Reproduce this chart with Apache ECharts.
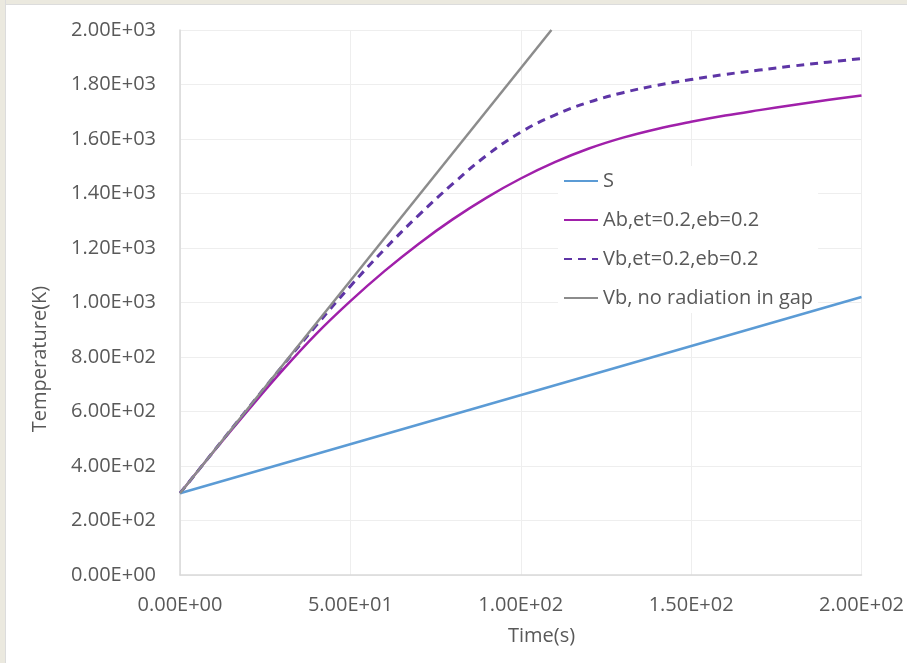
<!DOCTYPE html>
<html>
<head>
<meta charset="utf-8">
<script src="https://cdn.jsdelivr.net/npm/echarts@6/dist/echarts.min.js"></script>
<style>
  html, body { margin: 0; padding: 0; background: #ffffff; }
  #chart { position: absolute; left: 0; top: 0; width: 907px; height: 663px; }
  .edge-top { position: absolute; left: 0; top: 0; width: 907px; height: 4px; background: #ebe9df; border-bottom: 1px solid #dcdcdc; }
  .edge-left { position: absolute; left: 0; top: 0; width: 5px; height: 663px; background: #ebe9df; border-right: 1px solid #dcdcdc; }
</style>
</head>
<body>
<div id="chart"></div>
<div class="edge-top"></div>
<div class="edge-left"></div>
<script>
// Time axis (s) and temperatures (K)
const timeS = [0, 200];
const tempS = [300, 1020];

const timeAb = [0, 10, 20, 30, 40, 50, 60, 70, 80, 90, 100, 110, 120, 130, 140, 150, 160, 170, 180, 190, 200];
const tempAb = [300, 455, 605, 750, 885, 1005, 1115, 1215, 1305, 1385, 1455, 1515, 1565, 1605, 1637, 1663, 1686, 1706, 1725, 1743, 1760];

const timeVb = [0, 10, 20, 30, 40, 50, 60, 70, 80, 90, 100, 110, 120, 130, 140, 150, 160, 170, 180, 190, 200];
const tempVb = [300, 456, 612, 766, 916, 1060, 1195, 1320, 1435, 1540, 1625, 1688, 1735, 1770, 1797, 1818, 1837, 1853, 1868, 1882, 1895];

const timeNoRad = [0, 109];
const tempNoRad = [300, 2000];

const seriesNames = ['S', 'Ab,et=0.2,eb=0.2', 'Vb,et=0.2,eb=0.2', 'Vb, no radiation in gap'];

const xTickValues = [0, 50, 100, 150, 200];
const xTickLabels = ['0.00E+00', '5.00E+01', '1.00E+02', '1.50E+02', '2.00E+02'];
const yTickValues = [0, 200, 400, 600, 800, 1000, 1200, 1400, 1600, 1800, 2000];
const yTickLabels = ['0.00E+00', '2.00E+02', '4.00E+02', '6.00E+02', '8.00E+02', '1.00E+03',
                     '1.20E+03', '1.40E+03', '1.60E+03', '1.80E+03', '2.00E+03'];

const pairs = (xs, ys) => xs.map((x, i) => [x, ys[i]]);
const tickLabel = (values, labels) => v => {
  const i = values.indexOf(v);
  return i >= 0 ? labels[i] : '';
};

const font = 'Open Sans';
const textColor = '#595959';

const chart = echarts.init(document.getElementById('chart'), null, { renderer: 'canvas' });
chart.setOption({
  animation: false,
  backgroundColor: '#ffffff',
  grid: { left: 180, right: 44, top: 30, bottom: 88, containLabel: false },
  xAxis: {
    type: 'value', min: 0, max: 200, interval: 50,
    axisLine: { show: true, lineStyle: { color: '#d9d9d9', width: 1.5 } },
    axisTick: { show: false },
    splitLine: { show: true, lineStyle: { color: '#eeeeee', width: 1 } },
    axisLabel: { formatter: tickLabel(xTickValues, xTickLabels), fontFamily: font, fontSize: 20, color: textColor, margin: 20 }
  },
  yAxis: {
    type: 'value', min: 0, max: 2000, interval: 200,
    axisLine: { show: true, lineStyle: { color: '#d9d9d9', width: 1.5 } },
    axisTick: { show: false },
    splitLine: { show: true, lineStyle: { color: '#eeeeee', width: 1 } },
    axisLabel: { formatter: tickLabel(yTickValues, yTickLabels), fontFamily: font, fontSize: 20, color: textColor, margin: 24 }
  },
  legend: {
    orient: 'vertical', left: 558, top: 166,
    padding: [5, 5, 5, 5],
    backgroundColor: '#ffffff',
    itemWidth: 34, itemHeight: 14, itemGap: 19,
    itemStyle: { opacity: 0 },
    textStyle: { fontFamily: font, fontSize: 20, color: textColor, lineHeight: 20 },
    data: seriesNames
  },
  graphic: [
    { type: 'text', left: 508, top: 626, style: { text: 'Time(s)', font: '20px "Open Sans"', fill: textColor } },
    { type: 'text', x: 30, y: 359, rotation: Math.PI / 2,
      style: { text: 'Temperature(K)', font: '20px "Open Sans"', fill: textColor, align: 'center', verticalAlign: 'top' } }
  ],
  series: [
    { name: seriesNames[0], type: 'line', data: pairs(timeS, tempS), symbol: 'none',
      lineStyle: { color: '#5b9bd5', width: 2.5 }, itemStyle: { color: '#5b9bd5' }, z: 5 },
    { name: seriesNames[1], type: 'line', data: pairs(timeAb, tempAb), symbol: 'none', smooth: 0.4,
      lineStyle: { color: '#a020aa', width: 2.5 }, itemStyle: { color: '#a020aa' }, z: 3 },
    { name: seriesNames[2], type: 'line', data: pairs(timeVb, tempVb), symbol: 'none', smooth: 0.4,
      lineStyle: { color: '#5e35a6', width: 3, type: [8, 6] }, itemStyle: { color: '#5e35a6' }, z: 4 },
    { name: seriesNames[3], type: 'line', data: pairs(timeNoRad, tempNoRad), symbol: 'none',
      lineStyle: { color: '#8c8c8c', width: 2.5 }, itemStyle: { color: '#8c8c8c' }, z: 6 }
  ]
});
</script>
</body>
</html>
